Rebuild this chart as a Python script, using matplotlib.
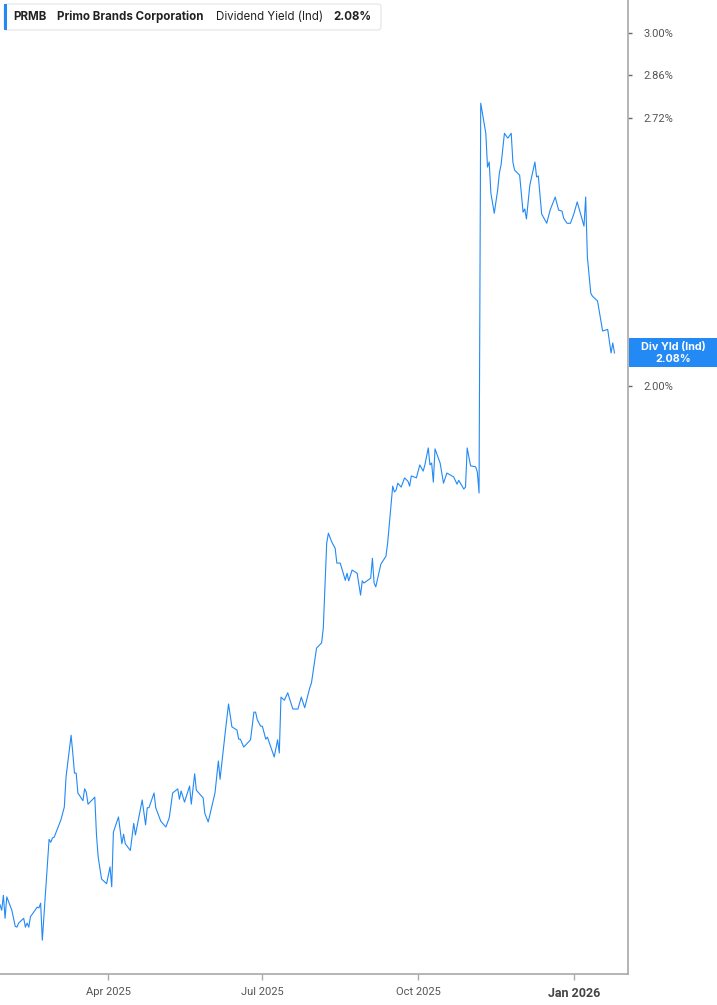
import matplotlib
matplotlib.use('Agg')
import matplotlib.pyplot as plt
import matplotlib.ticker as mticker
import matplotlib.dates as mdates
from matplotlib.patches import Rectangle, FancyBboxPatch
from matplotlib.transforms import Affine2D
import pandas as pd

# dividend yield (%)
dates = [
    '2025-01-27', '2025-01-28', '2025-01-29', '2025-01-30', '2025-01-31',
    '2025-02-03', '2025-02-05', '2025-02-06', '2025-02-07', '2025-02-10',
    '2025-02-11', '2025-02-12', '2025-02-13', '2025-02-14', '2025-02-18',
    '2025-02-19', '2025-02-20', '2025-02-21', '2025-02-25', '2025-02-26',
    '2025-02-27', '2025-02-28', '2025-03-04', '2025-03-06', '2025-03-07',
    '2025-03-10', '2025-03-11', '2025-03-12', '2025-03-13', '2025-03-14',
    '2025-03-17', '2025-03-18', '2025-03-19', '2025-03-20', '2025-03-24',
    '2025-03-25', '2025-03-26', '2025-03-28', '2025-03-31', '2025-04-02',
    '2025-04-03', '2025-04-04', '2025-04-07', '2025-04-09', '2025-04-10',
    '2025-04-11', '2025-04-14', '2025-04-16', '2025-04-17', '2025-04-21',
    '2025-04-23', '2025-04-24', '2025-04-25', '2025-04-28', '2025-04-29',
    '2025-05-02', '2025-05-05', '2025-05-07', '2025-05-09', '2025-05-12',
    '2025-05-13', '2025-05-14', '2025-05-16', '2025-05-19', '2025-05-20',
    '2025-05-22', '2025-05-23', '2025-05-27', '2025-05-28', '2025-05-30',
    '2025-06-03', '2025-06-05', '2025-06-06', '2025-06-09', '2025-06-11',
    '2025-06-13', '2025-06-16', '2025-06-17', '2025-06-18', '2025-06-20',
    '2025-06-24', '2025-06-26', '2025-06-27', '2025-06-28', '2025-06-30',
    '2025-07-01', '2025-07-03', '2025-07-04', '2025-07-08', '2025-07-10',
    '2025-07-11', '2025-07-12', '2025-07-14', '2025-07-16', '2025-07-17',
    '2025-07-19', '2025-07-22', '2025-07-24', '2025-07-26', '2025-07-29',
    '2025-07-30', '2025-08-02', '2025-08-05', '2025-08-06', '2025-08-08',
    '2025-08-09', '2025-08-11', '2025-08-13', '2025-08-14', '2025-08-16',
    '2025-08-19', '2025-08-20', '2025-08-21', '2025-08-23', '2025-08-26',
    '2025-08-28', '2025-08-29', '2025-08-30', '2025-09-03', '2025-09-04',
    '2025-09-05', '2025-09-06', '2025-09-09', '2025-09-12', '2025-09-13',
    '2025-09-16', '2025-09-17', '2025-09-18', '2025-09-19', '2025-09-21',
    '2025-09-23', '2025-09-25', '2025-09-26', '2025-09-27', '2025-09-30',
    '2025-10-02', '2025-10-04', '2025-10-05', '2025-10-07', '2025-10-08',
    '2025-10-09', '2025-10-10', '2025-10-11', '2025-10-14', '2025-10-16',
    '2025-10-18', '2025-10-20', '2025-10-22', '2025-10-24', '2025-10-25',
    '2025-10-28', '2025-10-29', '2025-10-30', '2025-11-01', '2025-11-04',
    '2025-11-05', '2025-11-06', '2025-11-07', '2025-11-10', '2025-11-11',
    '2025-11-12', '2025-11-13', '2025-11-15', '2025-11-17', '2025-11-18',
    '2025-11-19', '2025-11-21', '2025-11-23', '2025-11-25', '2025-11-26',
    '2025-11-27', '2025-11-30', '2025-12-02', '2025-12-03', '2025-12-04',
    '2025-12-06', '2025-12-09', '2025-12-10', '2025-12-11', '2025-12-13',
    '2025-12-16', '2025-12-18', '2025-12-21', '2025-12-23', '2025-12-25',
    '2025-12-26', '2025-12-28', '2025-12-30', '2026-01-01', '2026-01-03',
    '2026-01-07', '2026-01-08', '2026-01-09', '2026-01-11', '2026-01-12',
    '2026-01-15', '2026-01-18', '2026-01-21', '2026-01-23', '2026-01-24',
    '2026-01-25',
]
yields = [
    1.101, 1.094, 1.113, 1.084, 1.111,
    1.094, 1.074, 1.073, 1.078, 1.084,
    1.073, 1.078, 1.073, 1.086, 1.098,
    1.097, 1.103, 1.057, 1.187, 1.183,
    1.189, 1.190, 1.214, 1.232, 1.275,
    1.338, 1.311, 1.281, 1.281, 1.252,
    1.241, 1.258, 1.253, 1.236, 1.246,
    1.193, 1.163, 1.134, 1.128, 1.150,
    1.124, 1.197, 1.218, 1.181, 1.194,
    1.181, 1.172, 1.209, 1.193, 1.242,
    1.207, 1.231, 1.231, 1.252, 1.231,
    1.212, 1.204, 1.217, 1.252, 1.258,
    1.243, 1.255, 1.239, 1.262, 1.236,
    1.280, 1.256, 1.245, 1.223, 1.211,
    1.252, 1.299, 1.272, 1.341, 1.387,
    1.351, 1.346, 1.332, 1.332, 1.320,
    1.331, 1.374, 1.374, 1.362, 1.352,
    1.352, 1.332, 1.335, 1.305, 1.331,
    1.311, 1.398, 1.393, 1.405, 1.396,
    1.379, 1.379, 1.398, 1.381, 1.413,
    1.421, 1.479, 1.488, 1.514, 1.669,
    1.688, 1.671, 1.659, 1.631, 1.631,
    1.599, 1.612, 1.598, 1.618, 1.612,
    1.572, 1.598, 1.594, 1.603, 1.640,
    1.594, 1.587, 1.629, 1.644, 1.669,
    1.782, 1.770, 1.774, 1.788, 1.780,
    1.799, 1.792, 1.782, 1.803, 1.799,
    1.826, 1.813, 1.826, 1.862, 1.826,
    1.830, 1.790, 1.860, 1.830, 1.788,
    1.809, 1.805, 1.801, 1.786, 1.794,
    1.776, 1.780, 1.862, 1.824, 1.822,
    1.811, 1.768, 2.768, 2.674, 2.572,
    2.587, 2.496, 2.439, 2.505, 2.554,
    2.578, 2.674, 2.659, 2.674, 2.587,
    2.563, 2.548, 2.442, 2.451, 2.423,
    2.519, 2.587, 2.543, 2.546, 2.437,
    2.411, 2.448, 2.485, 2.448, 2.445,
    2.425, 2.411, 2.411, 2.437, 2.471,
    2.403, 2.485, 2.319, 2.225, 2.217,
    2.205, 2.130, 2.134, 2.077, 2.101,
    2.077,
]

symbol = 'PRMB'
company = 'Primo Brands Corporation'
metric = 'Dividend Yield (Ind)'
last_label = 'Div Yld (Ind)'
y_ticks = [2.00, 2.72, 2.86, 3.00]
x_ticks = ['2025-04-01', '2025-07-01', '2025-10-01', '2026-01-01']
x_tick_labels = ['Apr 2025', 'Jul 2025', 'Oct 2025', 'Jan 2026']

blue = '#2389f5'
W, H = 717, 1005

x = pd.to_datetime(dates)
last = yields[-1]

fig = plt.figure(figsize=(W / 100, H / 100), dpi=100)
fig.patch.set_facecolor('white')
# pixel coordinates measured from the top-left corner
pix = Affine2D().scale(1.0 / W, -1.0 / H).translate(0, 1) + fig.transFigure

ax = fig.add_axes([0, 31 / H, 628 / W, 974 / H])
ax.plot(x, yields, color=blue, lw=0.8)

ax.set_yscale('log')
ax.set_ylim(1.0167, 3.117)
ax.set_xlim(pd.Timestamp('2025-01-27'), pd.Timestamp('2026-02-02'))

ax.yaxis.tick_right()
ax.yaxis.set_major_locator(mticker.FixedLocator(y_ticks))
ax.yaxis.set_minor_locator(mticker.NullLocator())
ax.yaxis.set_major_formatter(mticker.FuncFormatter(lambda v, p: '%.2f%%' % v))
ax.tick_params(axis='y', direction='out', length=3, width=1, color='#666666',
               pad=8, labelsize=8, labelcolor='#555555')
for lab in ax.get_yticklabels():
    lab.set_fontfamily('Roboto')

ax.set_xticks(pd.to_datetime(x_ticks))
ax.set_xticklabels(x_tick_labels)
ax.tick_params(axis='x', direction='out', length=4, width=1, color='#aaaaaa',
               pad=5, labelsize=8, labelcolor='#555555')
for lab in ax.get_xticklabels():
    lab.set_fontfamily('Roboto')
xl = ax.get_xticklabels()[-1]
xl.set_fontweight('bold')
xl.set_fontsize(9)
xl.set_color('#444444')

for s in ['top', 'left']:
    ax.spines[s].set_visible(False)
for s in ['right', 'bottom']:
    ax.spines[s].set_color('#a8a8a8')
    ax.spines[s].set_linewidth(1.2)

# header box
fig.patches.append(FancyBboxPatch((4, 4), 377, 26, boxstyle='round,pad=0,rounding_size=3',
                                  transform=pix, facecolor='white', edgecolor='#e4e4e4', lw=0.8))
fig.patches.append(Rectangle((4, 4), 3, 26, transform=pix, facecolor=blue, edgecolor='none'))
hy = 17
fig.text(13, hy, symbol, transform=pix, fontsize=8.3, fontweight='bold', color='#222222',
         family='Inter', va='center')
fig.text(57, hy, company, transform=pix, fontsize=8.3, fontweight='bold', color='#222222',
         family='Inter', va='center')
fig.text(216, hy, metric, transform=pix, fontsize=8.3, color='#222222',
         family='Inter', va='center')
fig.text(333, hy, '%.2f%%' % last, transform=pix, fontsize=8.3, fontweight='bold',
         color='#222222', family='Inter', va='center')

# last value tag on the right axis
yd = ax.transData.transform((mdates.date2num(x[-1]), last))[1]
ytop = H - fig.transFigure.inverted().transform((0, yd))[1] * H
fig.patches.append(Rectangle((629, ytop - 14.5), 88, 29, transform=pix,
                             facecolor=blue, edgecolor='none'))
fig.text(673, ytop - 6, last_label, transform=pix, fontsize=7.8, fontweight='bold',
         color='white', family='Inter', ha='center', va='center')
fig.text(673, ytop + 6, '%.2f%%' % last, transform=pix, fontsize=7.8, fontweight='bold',
         color='white', family='Inter', ha='center', va='center')

fig.savefig('out.png', dpi=100, facecolor='white')
